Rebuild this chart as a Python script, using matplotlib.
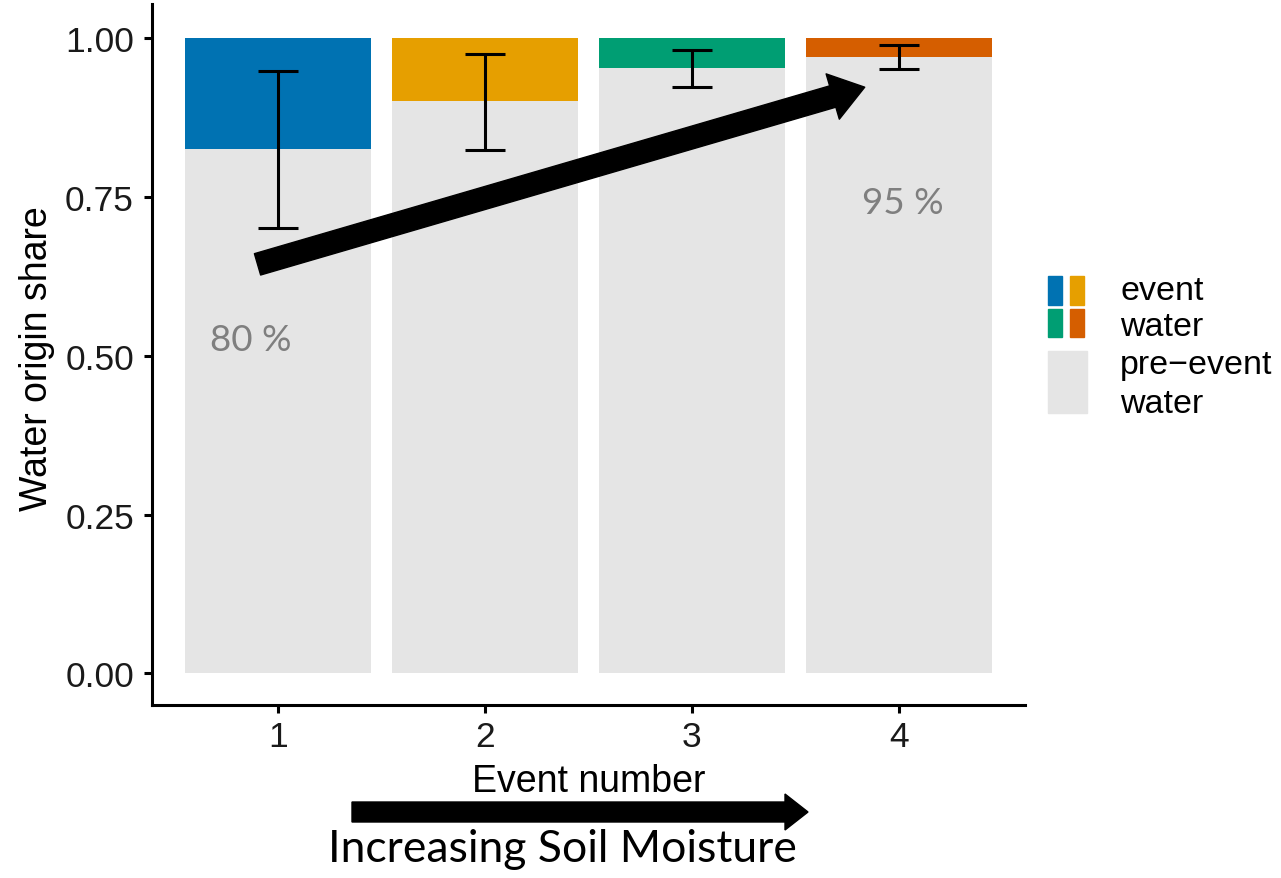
import matplotlib.pyplot as plt
from matplotlib.patches import Rectangle, FancyArrow

# Datos
eventos = [1, 2, 3, 4]
pre_evento = [0.825, 0.901, 0.953, 0.970]
err_bajo = [0.702, 0.824, 0.923, 0.951]
err_alto = [0.948, 0.976, 0.981, 0.989]
colores_evento = ['#0072B2', '#E69F00', '#009E73', '#D55E00']
gris = '#E5E5E5'
etiquetas_y = ['0.00', '0.25', '0.50', '0.75', '1.00']

plt.rcParams['font.family'] = ['Liberation Sans', 'DejaVu Sans']

fig = plt.figure(figsize=(12.81, 8.79), dpi=100)
ax = fig.add_axes([0.1187, 0.1968, 0.6813, 0.7975])

evento = [1 - p for p in pre_evento]
ax.bar(eventos, pre_evento, width=0.9, color=gris, zorder=1)
ax.bar(eventos, evento, bottom=pre_evento, width=0.9, color=colores_evento, zorder=1)

yerr = [[p - lo for p, lo in zip(pre_evento, err_bajo)],
        [hi - p for p, hi in zip(pre_evento, err_alto)]]
ax.errorbar(eventos, pre_evento, yerr=yerr, fmt='none', ecolor='black',
            elinewidth=2.2, capsize=14.5, capthick=2.2, zorder=3)

ax.set_xlim(0.39, 4.61)
ax.set_ylim(-0.05, 1.054)
ax.set_xticks(eventos)
ax.set_yticks([0, 0.25, 0.5, 0.75, 1.0])
ax.set_yticklabels(etiquetas_y)
ax.tick_params(labelsize=25.5, length=6, width=2.2, color='black', labelcolor='#1a1a1a')
ax.tick_params(axis='y', pad=7)
ax.tick_params(axis='x', pad=5)
for lado in ['top', 'right']:
    ax.spines[lado].set_visible(False)
for lado in ['left', 'bottom']:
    ax.spines[lado].set_linewidth(2.2)
ax.set_xlabel('Event number', fontsize=27, va='center')
ax.set_ylabel('Water origin share', fontsize=27, va='center')
ax.xaxis.set_label_coords(0.5, -0.108)
ax.yaxis.set_label_coords(-0.1317, 0.496)

# Flecha y porcentajes
ax.annotate('', xy=(3.836, 0.923), xytext=(0.90, 0.644),
            arrowprops=dict(facecolor='black', edgecolor='black', width=16,
                            headwidth=34, headlength=24, shrink=0), zorder=4)
ax.text(0.865, 0.526, '80 %', fontsize=26.5, color='#7f7f7f', family=['Lato', 'DejaVu Sans'],
        ha='center', va='center')
ax.text(4.02, 0.742, '95 %', fontsize=26.5, color='#7f7f7f', family=['Lato', 'DejaVu Sans'],
        ha='center', va='center')

# Leyenda manual
W, H = 1281, 879
def rect_px(x0, y0, x1, y1, color):
    fig.patches.append(Rectangle((x0 / W, 1 - y1 / H), (x1 - x0) / W, (y1 - y0) / H,
                                 transform=fig.transFigure, color=color, figure=fig))

rect_px(1048, 277, 1062, 306, colores_evento[0])
rect_px(1070, 277, 1084, 306, colores_evento[1])
rect_px(1048, 310, 1062, 338, colores_evento[2])
rect_px(1070, 310, 1084, 338, colores_evento[3])
rect_px(1048, 352, 1087, 414, gris)
for texto, y in [('event', 292), ('water', 328), ('pre\u2212event', 366), ('water', 405)]:
    fig.text(1120 / W, 1 - y / H, texto, fontsize=24.5, va='center', ha='left')

# Flecha inferior
fig.patches.append(FancyArrow(
    352 / W, 1 - 813 / H, (785 - 352) / W, 0, width=20 / H, head_width=36 / H,
    head_length=23 / W, length_includes_head=False, color='black',
    transform=fig.transFigure, figure=fig))
fig.text(562 / W, 1 - 862 / H, 'Increasing Soil Moisture', fontsize=32,
         family=['Lato', 'DejaVu Sans'], ha='center', va='baseline')

plt.savefig('out.png', dpi=100)
